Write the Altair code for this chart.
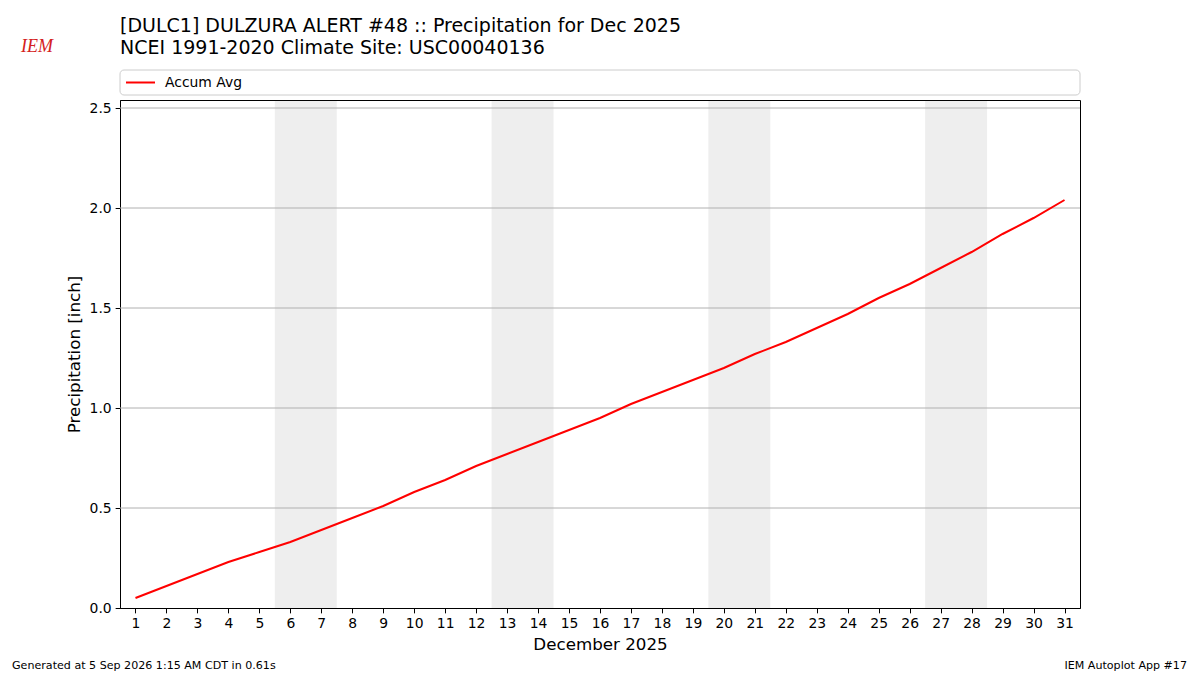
import altair as alt
import pandas as pd

days = list(range(1, 32))
accum_avg = [0.05, 0.11, 0.17, 0.23, 0.28, 0.33, 0.39, 0.45, 0.51, 0.58,
             0.64, 0.71, 0.77, 0.83, 0.89, 0.95, 1.02, 1.08, 1.14, 1.20,
             1.27, 1.33, 1.40, 1.47, 1.55, 1.62, 1.70, 1.78, 1.87, 1.95, 2.04]
weekend_start = [5.5, 12.5, 19.5, 26.5]
weekend_end = [7.5, 14.5, 21.5, 28.5]
y_ticks = [0.0, 0.5, 1.0, 1.5, 2.0, 2.5]

title_lines = ["[DULC1] DULZURA ALERT #48 :: Precipitation for Dec 2025",
               "NCEI 1991-2020 Climate Site: USC00040136"]
footer_left = "Generated at 5 Sep 2026 1:15 AM CDT in 0.61s"
footer_right = "IEM Autoplot App #17"
series_name = "Accum Avg"

FONT = "DejaVu Sans"
W, H = 960, 508

df = pd.DataFrame({"day": days, "precip": accum_avg, "series": series_name})
wk = pd.DataFrame({"start": weekend_start, "end": weekend_end})
grid = pd.DataFrame({"v": y_ticks[1:]})
one = pd.DataFrame({"a": [0]})

xscale = alt.Scale(domain=[0.5, 31.5], nice=False, zero=False)
yscale = alt.Scale(domain=[0, 2.54], nice=False)

xaxis = alt.Axis(values=days, title="December 2025", grid=False,
                 tickSize=4.86, labelPadding=4, labelFontSize=13.9,
                 titleFontSize=16.7, titleFontWeight="normal", titlePadding=6,
                 domainColor="black", tickColor="black", labelColor="black",
                 titleColor="black", labelFont=FONT, titleFont=FONT)
yaxis = alt.Axis(values=y_ticks, format=".1f", title="Precipitation [inch]",
                 grid=False, tickSize=4.86, labelPadding=4, labelFontSize=13.9,
                 titleFontSize=16.7, titleFontWeight="normal", titlePadding=6,
                 domainColor="black", tickColor="black", labelColor="black",
                 titleColor="black", labelFont=FONT, titleFont=FONT)

shade = alt.Chart(wk).mark_rect(color="#eeeeee").encode(
    x=alt.X("start:Q", scale=xscale, axis=xaxis),
    x2="end:Q",
    y=alt.value(1), y2=alt.value(H),
)

gridlines = alt.Chart(grid).mark_rule(color="#b0b0b0", strokeWidth=1).encode(
    y=alt.Y("v:Q", scale=yscale, axis=yaxis)
)

legend_box = alt.Chart(one).mark_rect(
    fill="white", stroke="#cccccc", strokeWidth=1, cornerRadius=4
).encode(x=alt.value(0), x2=alt.value(W), y=alt.value(-30), y2=alt.value(-5))

line = alt.Chart(df).mark_line(strokeWidth=2).encode(
    x=alt.X("day:Q", scale=xscale, axis=xaxis),
    y=alt.Y("precip:Q", scale=yscale, axis=yaxis),
    color=alt.Color("series:N",
                    scale=alt.Scale(domain=[series_name], range=["red"]),
                    legend=alt.Legend(title=None, orient="none", legendX=5,
                                      legendY=-33, symbolType="stroke",
                                      symbolSize=841, symbolStrokeWidth=2,
                                      labelFontSize=13.9, labelFont=FONT,
                                      labelColor="black", labelOffset=9)),
)

def text_layer(txt, x, y, size, align="left", font=FONT, color="black", style="normal"):
    return alt.Chart(one).mark_text(
        text=txt, align=align, baseline="alphabetic", fontSize=size,
        font=font, color=color, fontStyle=style
    ).encode(x=alt.value(x), y=alt.value(y))

title1 = text_layer(title_lines[0], 0, -68.5, 19.0)
title2 = text_layer(title_lines[1], 0, -46, 19.0)
foot_l = text_layer(footer_left, -108, 569, 11.1)
foot_r = text_layer(footer_right, 1067, 569, 11.1, align="right")
logo = text_layer("IEM", -99, -48, 18, font="Liberation Serif", color="#d42020", style="italic")

chart = alt.layer(shade, gridlines, legend_box, line, title1, title2,
                  foot_l, foot_r, logo).properties(
    width=W, height=H,
    autosize=alt.AutoSizeParams(type="none"),
    padding={"left": 112, "top": 92, "right": 112, "bottom": 67},
).configure_view(stroke="black", strokeWidth=1)

chart.save("out.html", embed_options={"renderer": "svg", "actions": False})
